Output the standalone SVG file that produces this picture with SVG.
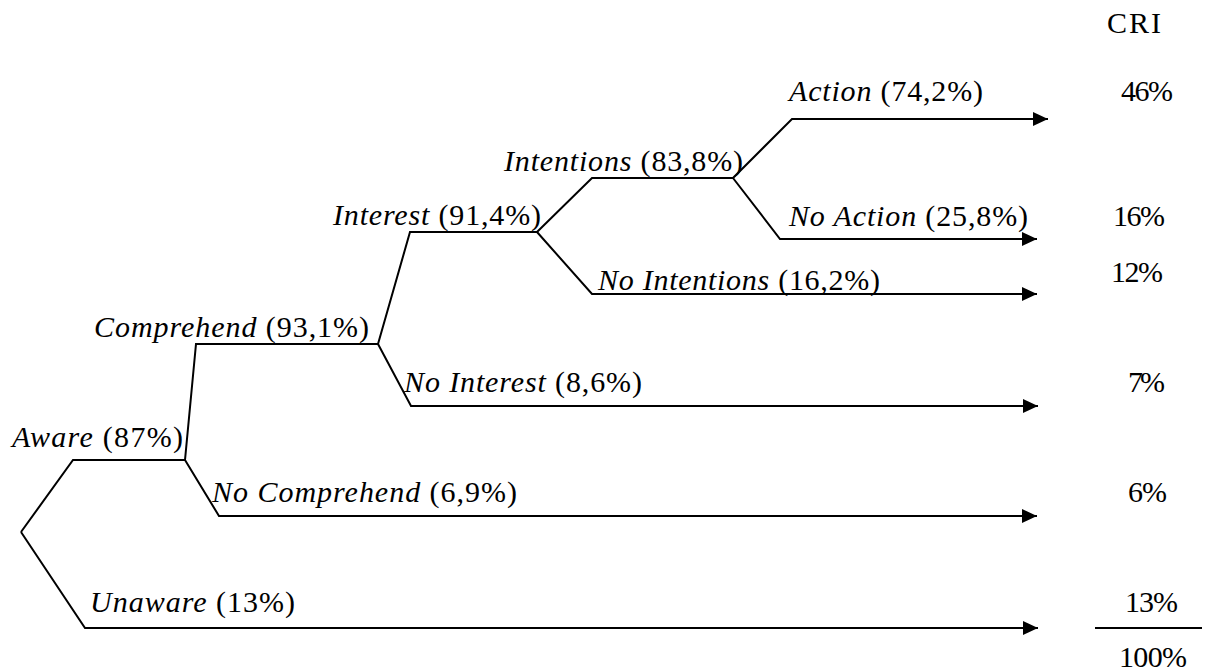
<svg xmlns="http://www.w3.org/2000/svg" width="1207" height="671" viewBox="0 0 1207 671">
<style>
  text { font-family: "Liberation Serif", "Times New Roman", serif; font-size: 30px; fill: #000; }
  .it { font-style: italic; }
  .ln { fill: none; stroke: #000; stroke-width: 2; stroke-linejoin: miter; }
  .arr { marker-end: url(#ah); }
</style>
<defs>
  <marker id="ah" viewBox="0 0 15 14" refX="15" refY="7" markerWidth="15" markerHeight="14" markerUnits="userSpaceOnUse" orient="auto">
    <path d="M0,0 L15,7 L0,14 z" fill="#000"/>
  </marker>
</defs>
<rect width="1207" height="671" fill="#fff"/>
<g id="connectors">
  <path class="ln" d="M21,532 L73,460 L185,460"/>
  <path class="ln arr" d="M21,532 L85,628 L1038,628"/>
  <path class="ln" d="M185,460 L196,344 L378,344"/>
  <path class="ln arr" d="M185,460 L219,516 L1037,516"/>
  <path class="ln" d="M378,344 L410,232 L537,232"/>
  <path class="ln arr" d="M378,344 L411,406 L1038,406"/>
  <path class="ln" d="M537,232 L592,178 L733,178"/>
  <path class="ln arr" d="M537,232 L592,294 L1037,294"/>
  <path class="ln arr" d="M733,178 L792,119 L1048,119"/>
  <path class="ln arr" d="M733,178 L780,239 L1037,239"/>
  <path class="ln" d="M1095,628 L1202,628"/>
</g>
<g id="cri-header"><text x="1107" y="33" textLength="54" lengthAdjust="spacing">CRI</text></g>
<g id="node-aware"><text x="12" y="447" textLength="171" lengthAdjust="spacing"><tspan class="it">Aware</tspan> (87%)</text></g>
<g id="node-unaware"><text x="90" y="612" textLength="205" lengthAdjust="spacing"><tspan class="it">Unaware</tspan> (13%)</text></g>
<g id="node-comprehend"><text x="94" y="337" textLength="275" lengthAdjust="spacing"><tspan class="it">Comprehend</tspan> (93,1%)</text></g>
<g id="node-no-comprehend"><text x="212" y="502" textLength="305" lengthAdjust="spacing"><tspan class="it">No Comprehend</tspan> (6,9%)</text></g>
<g id="node-interest"><text x="333" y="225" textLength="208" lengthAdjust="spacing"><tspan class="it">Interest</tspan> (91,4%)</text></g>
<g id="node-no-interest"><text x="404" y="392" textLength="238" lengthAdjust="spacing"><tspan class="it">No Interest</tspan> (8,6%)</text></g>
<g id="node-intentions"><text x="504" y="171" textLength="239" lengthAdjust="spacing"><tspan class="it">Intentions</tspan> (83,8%)</text></g>
<g id="node-no-intentions"><text x="598" y="290" textLength="282" lengthAdjust="spacing"><tspan class="it">No Intentions</tspan> (16,2%)</text></g>
<g id="node-action"><text x="789" y="101" textLength="194" lengthAdjust="spacing"><tspan class="it">Action</tspan> (74,2%)</text></g>
<g id="node-no-action"><text x="789" y="226" textLength="239" lengthAdjust="spacing"><tspan class="it">No Action</tspan> (25,8%)</text></g>
<g id="cri-values">
  <text x="1121" y="101" textLength="52" lengthAdjust="spacing">46%</text>
  <text x="1113" y="226" textLength="52" lengthAdjust="spacing">16%</text>
  <text x="1111" y="282" textLength="52" lengthAdjust="spacing">12%</text>
  <text x="1128" y="392" textLength="37" lengthAdjust="spacing">7%</text>
  <text x="1128" y="502" textLength="39" lengthAdjust="spacing">6%</text>
  <text x="1125" y="612" textLength="53" lengthAdjust="spacing">13%</text>
  <text x="1119" y="667" textLength="68" lengthAdjust="spacing">100%</text>
</g>
</svg>
